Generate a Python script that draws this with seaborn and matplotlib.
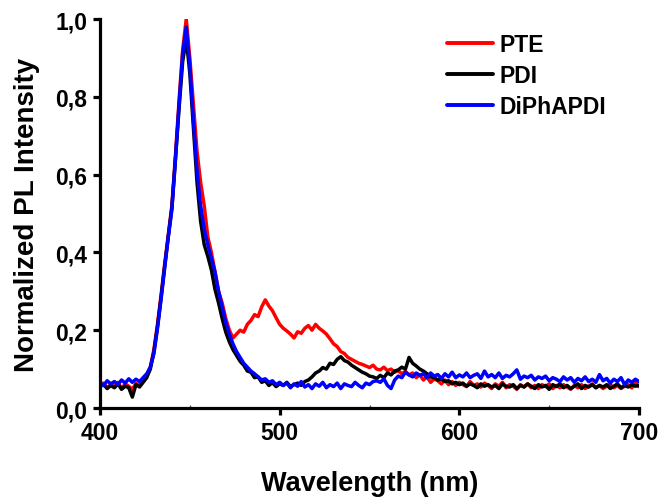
import numpy as np
import pandas as pd
import matplotlib
matplotlib.use("Agg")
import matplotlib.pyplot as plt
import seaborn as sns
from matplotlib.ticker import MultipleLocator, FuncFormatter

# Emission spectra, sampled every 2 nm from 400 to 700 nm
wavelength = np.arange(400, 701, 2)

pte = [
    0.058, 0.064, 0.052, 0.060, 0.055, 0.066, 0.050, 0.062, 0.056, 0.048,
    0.063, 0.058, 0.070, 0.082, 0.105, 0.150, 0.215, 0.290, 0.370, 0.445,
    0.520, 0.650, 0.790, 0.920, 1.000, 0.900, 0.780, 0.660, 0.580, 0.520,
    0.440, 0.400, 0.350, 0.300, 0.270, 0.230, 0.200, 0.180, 0.190, 0.200,
    0.195, 0.215, 0.225, 0.240, 0.235, 0.260, 0.278, 0.262, 0.250, 0.232,
    0.215, 0.205, 0.198, 0.190, 0.180, 0.196, 0.192, 0.205, 0.212, 0.200,
    0.215, 0.205, 0.198, 0.190, 0.178, 0.165, 0.158, 0.145, 0.140, 0.130,
    0.125, 0.120, 0.115, 0.112, 0.108, 0.104, 0.110, 0.100, 0.098, 0.105,
    0.096, 0.100, 0.092, 0.096, 0.088, 0.094, 0.085, 0.090, 0.078, 0.085,
    0.072, 0.080, 0.066, 0.075, 0.070, 0.062, 0.072, 0.060, 0.068, 0.058,
    0.066, 0.060, 0.055, 0.068, 0.058, 0.062, 0.054, 0.064, 0.058, 0.050,
    0.062, 0.056, 0.066, 0.052, 0.060, 0.056, 0.048, 0.060, 0.054, 0.062,
    0.052, 0.058, 0.050, 0.060, 0.055, 0.062, 0.050, 0.058, 0.052, 0.060,
    0.054, 0.048, 0.058, 0.052, 0.060, 0.050, 0.056, 0.062, 0.052, 0.058,
    0.050, 0.056, 0.060, 0.052, 0.058, 0.050, 0.056, 0.060, 0.052, 0.066,
    0.055,
]

pdi = [
    0.055, 0.060, 0.050, 0.058, 0.052, 0.062, 0.048, 0.056, 0.052, 0.028,
    0.060, 0.054, 0.066, 0.078, 0.100, 0.145, 0.210, 0.285, 0.365, 0.440,
    0.515, 0.640, 0.770, 0.890, 0.950, 0.860, 0.720, 0.580, 0.480, 0.420,
    0.390, 0.355, 0.305, 0.270, 0.230, 0.195, 0.170, 0.150, 0.135, 0.120,
    0.110, 0.095, 0.092, 0.078, 0.080, 0.066, 0.070, 0.058, 0.065, 0.055,
    0.062, 0.058, 0.066, 0.055, 0.060, 0.064, 0.058, 0.068, 0.072, 0.080,
    0.090, 0.095, 0.104, 0.100, 0.115, 0.112, 0.125, 0.132, 0.122, 0.118,
    0.110, 0.104, 0.098, 0.092, 0.088, 0.082, 0.080, 0.076, 0.084, 0.078,
    0.090, 0.085, 0.095, 0.098, 0.105, 0.100, 0.130, 0.115, 0.108, 0.100,
    0.095, 0.088, 0.080, 0.078, 0.072, 0.075, 0.068, 0.070, 0.062, 0.066,
    0.060, 0.064, 0.056, 0.062, 0.058, 0.052, 0.062, 0.056, 0.060, 0.054,
    0.058, 0.050, 0.062, 0.056, 0.054, 0.060, 0.050, 0.058, 0.054, 0.062,
    0.056, 0.050, 0.060, 0.054, 0.058, 0.048, 0.060, 0.055, 0.062, 0.052,
    0.058, 0.050, 0.056, 0.062, 0.050, 0.058, 0.054, 0.060, 0.052, 0.058,
    0.054, 0.060, 0.050, 0.056, 0.062, 0.052, 0.058, 0.054, 0.060, 0.056,
    0.058,
]

diphapdi = [
    0.065, 0.058, 0.070, 0.062, 0.068, 0.060, 0.072, 0.064, 0.075, 0.066,
    0.074, 0.068, 0.078, 0.088, 0.105, 0.140, 0.205, 0.280, 0.360, 0.440,
    0.510, 0.640, 0.780, 0.910, 0.980, 0.880, 0.740, 0.610, 0.520, 0.460,
    0.420, 0.385, 0.350, 0.300, 0.260, 0.220, 0.190, 0.165, 0.145, 0.130,
    0.115, 0.105, 0.095, 0.088, 0.080, 0.072, 0.075, 0.066, 0.070, 0.060,
    0.066, 0.058, 0.064, 0.052, 0.062, 0.056, 0.068, 0.054, 0.060, 0.050,
    0.062, 0.056, 0.066, 0.052, 0.060, 0.055, 0.064, 0.050, 0.062, 0.058,
    0.055, 0.066, 0.058, 0.052, 0.064, 0.060, 0.068, 0.070, 0.066, 0.075,
    0.058, 0.050, 0.072, 0.082, 0.078, 0.092, 0.085, 0.080, 0.090, 0.084,
    0.088, 0.078, 0.090, 0.082, 0.086, 0.076, 0.088, 0.080, 0.092, 0.078,
    0.085, 0.080, 0.090, 0.078, 0.084, 0.088, 0.076, 0.095, 0.080, 0.086,
    0.078, 0.090, 0.076, 0.084, 0.080, 0.088, 0.098, 0.074, 0.082, 0.078,
    0.084, 0.072, 0.080, 0.076, 0.082, 0.070, 0.078, 0.074, 0.068, 0.080,
    0.072, 0.078, 0.066, 0.076, 0.070, 0.080, 0.068, 0.074, 0.066, 0.086,
    0.070, 0.076, 0.064, 0.074, 0.068, 0.078, 0.060, 0.072, 0.066, 0.074,
    0.068,
]

samples = ["PTE", "PDI", "DiPhAPDI"]
colors = ["#ff0000", "#000000", "#0000ff"]
x_ticks = [400, 500, 600, 700]
y_ticks = [0.0, 0.2, 0.4, 0.6, 0.8, 1.0]

df = pd.concat(
    [
        pd.DataFrame({"Wavelength": wavelength, "Intensity": vals, "Sample": name})
        for name, vals in zip(samples, [pte, pdi, diphapdi])
    ],
    ignore_index=True,
)

sns.set_style("ticks")
plt.rcParams["font.family"] = ["Liberation Sans", "DejaVu Sans"]
plt.rcParams["font.weight"] = "bold"
plt.rcParams["axes.labelweight"] = "bold"
plt.rcParams["text.color"] = "black"
plt.rcParams["axes.labelcolor"] = "black"
plt.rcParams["xtick.color"] = "black"
plt.rcParams["ytick.color"] = "black"

fig = plt.figure(figsize=(6.61, 5.02), dpi=100)
ax = fig.add_axes([100 / 661, 1 - 409 / 502, 539 / 661, 389 / 502])

sns.lineplot(
    data=df, x="Wavelength", y="Intensity", hue="Sample",
    hue_order=samples, palette=dict(zip(samples, colors)),
    estimator=None, sort=False, linewidth=2.5, ax=ax,
)

ax.set_xlim(400, 700)
ax.set_ylim(0, 1.0)
ax.set_xticks(x_ticks)
ax.set_yticks(y_ticks)
ax.xaxis.set_minor_locator(MultipleLocator(50))
ax.yaxis.set_major_formatter(FuncFormatter(lambda v, _: f"{v:.1f}".replace(".", ",")))

for side in ("top", "right"):
    ax.spines[side].set_visible(False)
for side in ("left", "bottom"):
    ax.spines[side].set_linewidth(2.3)
    ax.spines[side].set_color("black")

ax.tick_params(which="major", direction="out", length=5, width=2.3,
               labelsize=16.5, colors="black", labelcolor="black")
ax.tick_params(axis="x", which="major", pad=4)
ax.tick_params(axis="y", which="major", pad=4)
ax.tick_params(axis="x", which="minor", direction="in", length=2.5, width=1.0,
               color="#555555")
for lab in ax.get_xticklabels() + ax.get_yticklabels():
    lab.set_fontweight("bold")
    lab.set_color("black")

ax.set_xlabel("Wavelength (nm)", fontsize=19.5, fontweight="bold",
              labelpad=19, color="black")
ax.set_ylabel("Normalized PL Intensity", fontsize=20, fontweight="bold",
              labelpad=11, color="black")

handles, labels = ax.get_legend_handles_labels()
leg = ax.legend(
    handles, labels, loc="upper left",
    bbox_to_anchor=(447 / 661, 1 - 34 / 502), bbox_transform=fig.transFigure,
    frameon=False, borderpad=0, borderaxespad=0,
    handlelength=2.0, handletextpad=0.3, labelspacing=0.36,
    prop={"weight": "bold", "size": 16.5},
)
for line in leg.get_lines():
    line.set_linewidth(2.8)
for t in leg.get_texts():
    t.set_color("black")

fig.savefig("out.png", dpi=100)
